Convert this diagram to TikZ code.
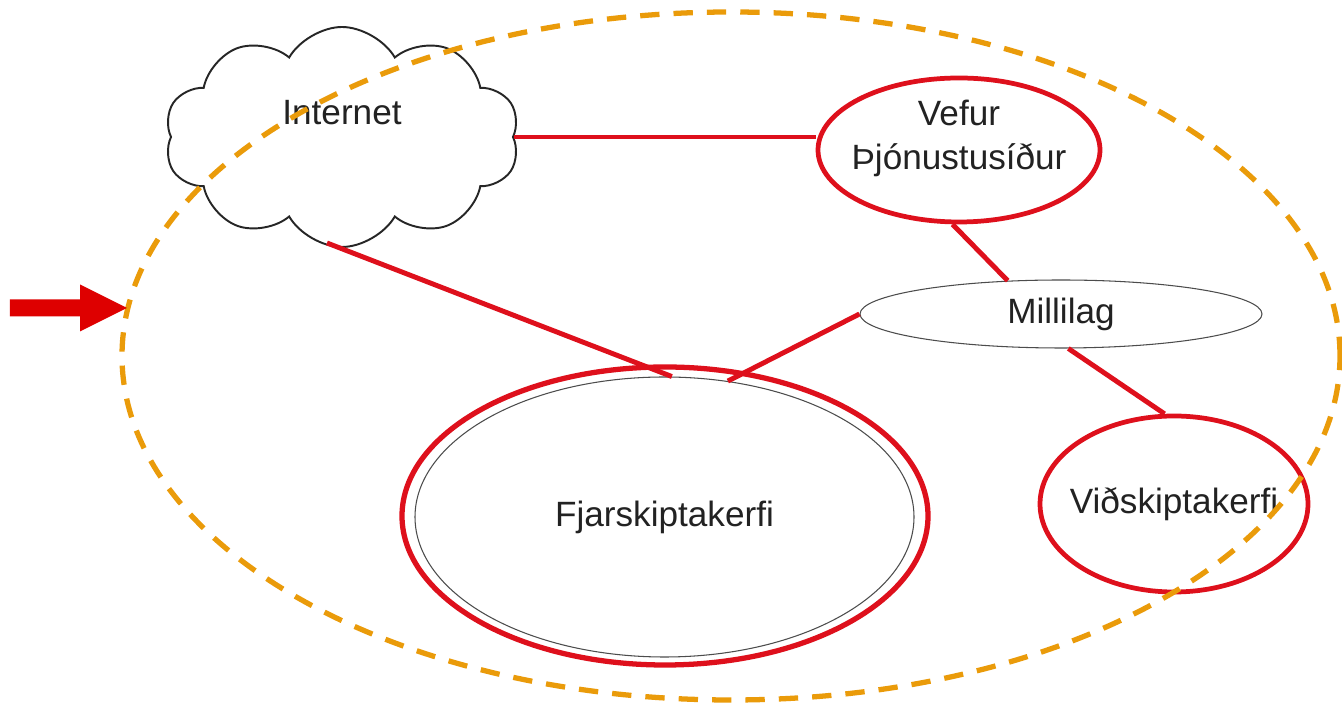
\documentclass[tikz,border=0pt]{standalone}
\usepackage{fontspec}
\setmainfont{Liberation Sans}
\usetikzlibrary{shapes.geometric, shapes.symbols}
\definecolor{linkRed}{RGB}{222,16,28}
\definecolor{arrowRed}{RGB}{222,0,0}
\definecolor{ringOrange}{RGB}{234,155,10}
\definecolor{textGray}{RGB}{34,34,34}

\begin{document}
\begin{tikzpicture}[
  redEllipse/.style={ellipse, draw=linkRed, line width=2.7pt, fill=white, inner sep=0pt},
  thinEllipse/.style={ellipse, draw=black!70, line width=0.6pt, inner sep=0pt},
  redLink/.style={draw=linkRed, line width=2.8pt},
  every node/.style={text=textGray, font=\fontsize{20}{25}\selectfont, align=center}]
\useasboundingbox (0,0) rectangle (26.84,14.12);

% the systems
\node[cloud, cloud puffs=10, cloud puff arc=120, aspect=1.6, draw=black!85, line width=1.1pt, fill=white, minimum width=7.1cm, minimum height=4.4cm] (inet) at (6.84,11.38) {};
\node (inetText) at (6.84,11.86) {Internet};
\coordinate (inetFoot) at (6.54,9.26);
\node[redEllipse, minimum width=5.64cm, minimum height=2.88cm] (vefur) at (19.18,11.12) {};
\node (vefurText) at (19.18,11.36) {Vefur\\Þjónustusíður};
\node[thinEllipse, fill=white, minimum width=8.04cm, minimum height=1.36cm] (mill) at (21.22,7.84) {Millilag};
\node[redEllipse, line width=3pt, minimum width=10.52cm, minimum height=5.96cm] (fjar) at (13.30,3.80) {};
\node[thinEllipse, minimum width=9.98cm, minimum height=5.6cm] (fjarIn) at (13.29,3.78) {Fjarskiptakerfi};
\node[redEllipse, minimum width=5.36cm, minimum height=3.52cm] (vid) at (23.48,4.04) {};
\node (vidText) at (23.48,4.04) {Viðskiptakerfi};

% links
\draw[redLink] (inet.east) -- (inet.east -| vefur.west);
\draw[redLink] (inetFoot) -- (fjarIn.87);
\draw[redLink] (mill.west) -- (fjarIn.65);
\draw[redLink] (vefur.265) -- (mill.148);
\draw[redLink] (mill.-78) -- (vid.96);

% boundary and pointer
\draw[ringOrange, line width=3pt, dash pattern=on 11pt off 8pt] (14.62,7.00) ellipse [x radius=12.18, y radius=6.88];
\fill[arrowRed] (0.2,7.79) -- (1.6,7.79) -- (1.6,7.49) -- (2.54,7.96) -- (1.6,8.43) -- (1.6,8.13) -- (0.2,8.13) -- cycle;

\end{tikzpicture}
\end{document}
